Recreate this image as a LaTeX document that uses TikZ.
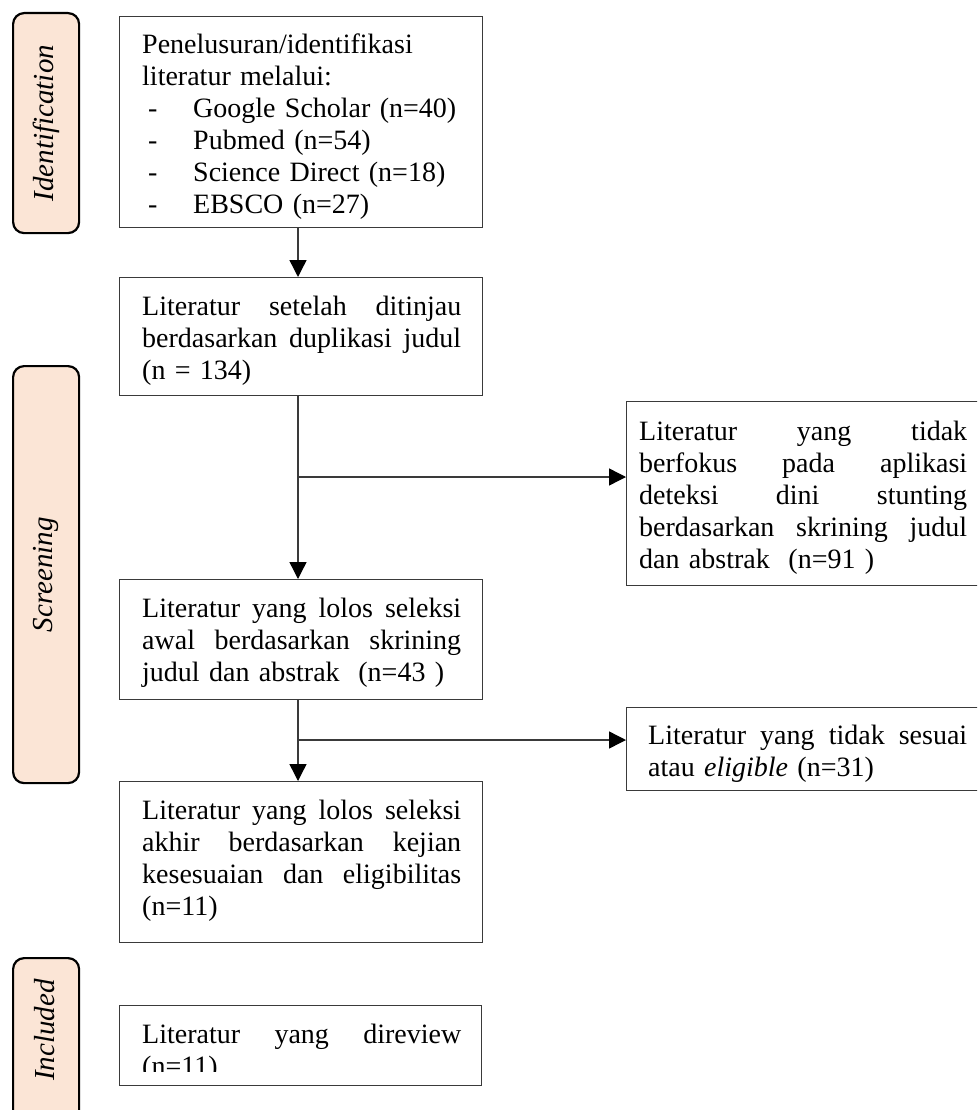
\documentclass[tikz,border=0pt]{standalone}
\usepackage{fontspec}
\setmainfont{Liberation Serif}
\usetikzlibrary{arrows.meta}
\definecolor{peach}{HTML}{FBE5D6}
\definecolor{ln}{HTML}{3A3A3A}
\newcommand{\jl}[2][319pt]{{\spaceskip=0.25em plus 1fil\relax\makebox[#1][s]{#2}}\\}
\newcommand{\itm}[1]{\makebox[51pt][l]{\hspace*{6pt}-}#1}
\tikzset{
  box/.style={draw=ln, line width=1.4pt, rectangle, inner sep=0pt, anchor=north west},
  lab/.style={draw=black, line width=2.2pt, fill=peach, rounded corners=11pt, rectangle, inner sep=0pt, anchor=north west},
  labtxt/.style={rotate=90, inner sep=0pt, font=\fontsize{29}{32}\selectfont\itshape},
  txt/.style={anchor=base west, inner sep=0pt, text width=#1, align=left, font=\fontsize{28}{32}\selectfont},
  conn/.style={draw=ln, line width=1.4pt},
  arr/.style={conn, -{Triangle[length=17pt,width=17pt,color=black]}}
}
\begin{document}
\begin{tikzpicture}[x=1pt,y=-1pt]
\clip (0,0) rectangle (977,1110);
\fill[white] (0,0) rectangle (977,1110);
% phase labels
\node[lab, minimum width=66pt, minimum height=220pt] (l1) at (12,12) {};
\node[labtxt] (t1) at (l1.center) {Identification};
\node[lab, minimum width=66pt, minimum height=417pt] (l2) at (12,365) {};
\node[labtxt] (t2) at (l2.center) {Screening};
\node[lab, minimum width=66pt, minimum height=180pt] (l3) at (12,957) {};
\node[labtxt] (t3) at (45,1030) {Included};
% boxes
\node[box, minimum width=363pt, minimum height=211pt] (b1) at (119,16) {};
\node[box, minimum width=363pt, minimum height=118pt] (b2) at (119,277) {};
\node[box, minimum width=363pt, minimum height=120pt] (b3) at (119,579) {};
\node[box, minimum width=363pt, minimum height=161pt] (b4) at (119,781) {};
\node[box, minimum width=362pt, minimum height=80pt] (b5) at (119,1005) {};
\node[box, minimum width=370pt, minimum height=184pt] (r1) at (626,401) {};
\node[box, minimum width=370pt, minimum height=83pt] (r2) at (626,707) {};
% texts
\node[txt=319pt] (x1) at (142,54) {Penelusuran/identifikasi\\literatur melalui:\\\itm{Google Scholar (n=40)}\\\itm{Pubmed (n=54)}\\\itm{Science Direct (n=18)}\\\itm{EBSCO (n=27)}};
\node[txt=319pt] (x2) at (142,315) {\jl{Literatur setelah ditinjau}\jl{berdasarkan duplikasi judul}(n = 134)};
\node[txt=319pt] (x3) at (142,617) {\jl{Literatur yang lolos seleksi}\jl{awal berdasarkan skrining}judul dan abstrak\ \ (n=43 )};
\node[txt=319pt] (x4) at (142,819) {\jl{Literatur yang lolos seleksi}\jl{akhir berdasarkan kejian}\jl{kesesuaian dan eligibilitas}(n=11)};
\node[txt=328pt] (y1) at (639,440) {\jl[328pt]{Literatur yang tidak}\jl[328pt]{berfokus pada aplikasi}\jl[328pt]{deteksi dini stunting}\jl[328pt]{berdasarkan skrining judul}dan abstrak\ \ (n=91 )};
\node[txt=319pt] (y2) at (648,744) {\jl{Literatur yang tidak sesuai}atau \textit{eligible} (n=31)};
\begin{scope}
\clip (119,1005) rectangle (481,1071);
\node[txt=319pt] (x5) at (142,1043) {\jl{Literatur yang direview}(n=11)};
\end{scope}
% connectors
\coordinate (cx) at (298,0);
\coordinate (j1) at (298,477);
\coordinate (j2) at (298,740);
\draw[arr] (b1.south -| cx) -- (b2.north -| cx);
\draw[arr] (b2.south -| cx) -- (b3.north -| cx);
\draw[arr] (j1) -- (r1.west |- j1);
\draw[arr] (b3.south -| cx) -- (b4.north -| cx);
\draw[arr] (j2) -- (r2.west |- j2);
\end{tikzpicture}
\end{document}
